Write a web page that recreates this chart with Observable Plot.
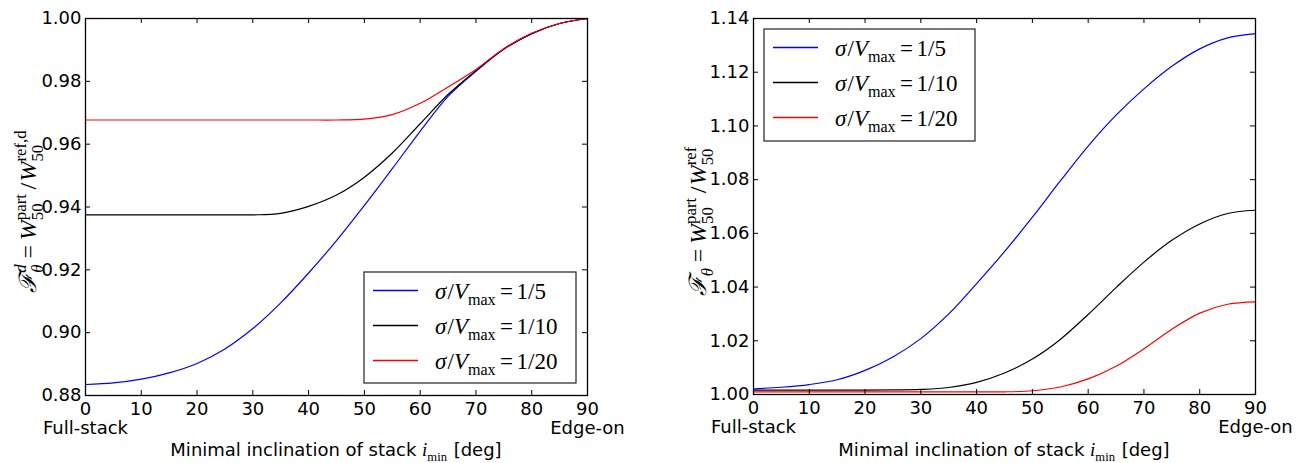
<!DOCTYPE html>
<html><head><meta charset="utf-8">
<script src="https://cdn.jsdelivr.net/npm/d3@7"></script>
<script src="https://cdn.jsdelivr.net/npm/@observablehq/plot@0.6"></script>
<style>
body{margin:0;background:#fff;}
#wrap{display:flex;width:1304px;height:463px;overflow:hidden;}
#wrap svg{display:block;}
</style></head><body><div id="wrap"></div>
<script>
// ---- data ----
const inclination = [0,5,10,15,20,25,30,35,40,45,50,55,60,65,70,75,80,85,90];
const seriesLabels = ["1/5","1/10","1/20"];
const seriesColors = ["#0000ff","#000000","#ff0000"];
// left panel: F^d_theta
const leftBlue  = [0.8835,0.8840,0.8852,0.8872,0.8902,0.8948,0.9013,0.9095,0.9190,0.9293,0.9405,0.9522,0.9641,0.9752,0.9832,0.9902,0.9952,0.9984,1.0000];
const leftBlack = [0.9375,0.9375,0.9375,0.9375,0.9375,0.9375,0.9375,0.9380,0.9402,0.9438,0.9495,0.9572,0.9665,0.9758,0.9834,0.9903,0.9952,0.9984,1.0000];
const leftRed   = [0.9677,0.9677,0.9677,0.9677,0.9677,0.9677,0.9677,0.9677,0.9677,0.9677,0.9680,0.9694,0.9730,0.9782,0.9838,0.9904,0.9953,0.9984,1.0000];
// right panel: F_theta
const rightBlue  = [1.0021,1.0027,1.0037,1.0055,1.0090,1.0140,1.0208,1.0300,1.0413,1.0532,1.0660,1.0795,1.0925,1.1040,1.1138,1.1222,1.1287,1.1328,1.1344];
const rightBlack = [1.0016,1.0016,1.0016,1.0016,1.0016,1.0017,1.0019,1.0026,1.0045,1.0080,1.0132,1.0205,1.0298,1.0398,1.0493,1.0574,1.0635,1.0674,1.0686];
const rightRed   = [1.0010,1.0010,1.0010,1.0010,1.0010,1.0010,1.0010,1.0010,1.0010,1.0010,1.0014,1.0028,1.0058,1.0105,1.0170,1.0243,1.0303,1.0336,1.0345];
const xTicks = [0,10,20,30,40,50,60,70,80,90];
const yTicksLeft = [0.88,0.90,0.92,0.94,0.96,0.98,1.00];
const yTicksRight = [1.00,1.02,1.04,1.06,1.08,1.10,1.12,1.14];
const xEndLabels = ["Full-stack","Edge-on"];
const xEndPos = [0,90];

const SERIF = "'Liberation Serif','Times New Roman',serif";
const SANS = "'DejaVu Sans',sans-serif";

// sequential math-like text layout
function addText(g, x, y, txt, fs, family, italic) {
  const el = g.append("text").attr("x", x).attr("y", y)
    .attr("text-anchor", "start")
    .attr("font-family", family).attr("font-size", fs)
    .attr("font-style", italic ? "italic" : "normal")
    .attr("fill", "#000").text(txt);
  return el.node().getComputedTextLength();
}
function mathRow(g, parts, size) {
  let x = 0;
  for (const p of parts) {
    if (p.gap !== undefined) { x += p.gap * size; continue; }
    if (p.t !== undefined) {
      x += addText(g, x, 0, p.t, (p.scale || 1) * size, p.sans ? SANS : SERIF, p.it);
    } else {
      let w = 0;
      const fs = size * 0.7;
      if (p.sub !== undefined) w = Math.max(w, addText(g, x, size * 0.28, p.sub, fs, SERIF, p.subIt));
      if (p.sup !== undefined) w = Math.max(w, addText(g, x, -size * 0.42, p.sup, fs, SERIF, p.supIt));
      x += w + 1;
    }
  }
  return x;
}

function makePanel(cfg) {
  const W = 652, H = 463;
  const {ml, mr, mt, mb} = cfg;
  const pw = W - ml - mr, ph = H - mt - mb;
  const lineMarks = cfg.series.map((vals, i) =>
    Plot.line(inclination.map((x, j) => ({x, y: vals[j]})),
      {x: "x", y: "y", stroke: seriesColors[i], strokeWidth: 1.2, curve: "catmull-rom"}));
  const plot = Plot.plot({
    width: W, height: H,
    marginLeft: ml, marginRight: mr, marginTop: mt, marginBottom: mb,
    style: {fontFamily: SANS, fontSize: "18px", color: "#000", background: "#fff", overflow: "visible"},
    x: {domain: [0, 90]},
    y: {domain: cfg.ydomain},
    marks: [
      ...lineMarks,
      Plot.tickX(xTicks, {x: d => d, insetTop: ph - 5, stroke: "#000"}),
      Plot.tickX(xTicks, {x: d => d, insetBottom: ph - 5, stroke: "#000"}),
      Plot.tickY(cfg.yticks, {y: d => d, insetRight: pw - 5, stroke: "#000"}),
      Plot.tickY(cfg.yticks, {y: d => d, insetLeft: pw - 5, stroke: "#000"}),
      Plot.frame({stroke: "#000", strokeWidth: 1.3}),
      Plot.axisX({ticks: xTicks, tickSize: 0, tickPadding: 7, label: null, fill: "#000"}),
      Plot.axisY({ticks: cfg.yticks, tickSize: 0, tickPadding: 4, label: null, fill: "#000", tickFormat: d => d.toFixed(2)}),
      Plot.text(xEndLabels, {x: (d, i) => xEndPos[i], text: d => d, frameAnchor: "bottom", dy: 26, lineAnchor: "top", fill: "#000"})
    ]
  });
  document.getElementById("wrap").appendChild(plot);
  const svg = d3.select(plot);

  // x-axis label
  const gx = svg.append("g");
  const inner = gx.append("g");
  const wx = mathRow(inner, [
    {t: "Minimal inclination of stack ", sans: true},
    {t: "i", it: true, scale: 1.05},
    {sub: "min"},
    {t: " [deg]", sans: true}
  ], 18);
  inner.attr("transform", `translate(${-wx / 2},0)`);
  gx.attr("transform", `translate(${ml + pw / 2},${H - 7})`);

  // y-axis label (rotated)
  const gy = svg.append("g");
  const iy = gy.append("g");
  const wy = mathRow(iy, cfg.ylabel, 24);
  iy.attr("transform", `translate(${-wy / 2},0)`);
  gy.attr("transform", `translate(${cfg.ylabX},${cfg.ylabY}) rotate(-90)`);

  // legend
  const L = cfg.legend;
  const lg = svg.append("g");
  lg.append("rect").attr("x", L.x).attr("y", L.y).attr("width", L.w).attr("height", L.h)
    .attr("fill", "#fff").attr("stroke", "#333").attr("stroke-width", 1.3);
  seriesLabels.forEach((lab, i) => {
    const ry = L.y + 18.5 + i * 35;
    lg.append("line").attr("x1", L.x + 9).attr("x2", L.x + 54).attr("y1", ry).attr("y2", ry)
      .attr("stroke", seriesColors[i]).attr("stroke-width", 1.3);
    const tg = lg.append("g").attr("transform", `translate(${L.x + 71},${ry + 8})`);
    mathRow(tg, [
      {t: "σ", it: true}, {gap: 0.05}, {t: "/"}, {t: "V", it: true}, {sub: "max"},
      {gap: 0.15}, {t: "="}, {gap: 0.15}, {t: lab}
    ], 23);
  });
}

makePanel({
  ml: 85, mr: 65, mt: 18, mb: 68,
  ydomain: [0.88, 1.00], yticks: yTicksLeft,
  series: [leftBlue, leftBlack, leftRed],
  ylabel: [
    {t: "ℱ", it: true}, {sub: "θ", sup: "d", subIt: true, supIt: true},
    {gap: 0.2}, {t: "="}, {gap: 0.2},
    {t: "W", it: true}, {sub: "50", sup: "part"},
    {gap: 0.15}, {t: "/"}, {gap: 0.05},
    {t: "W", it: true}, {sub: "50", sup: "ref,d"}
  ],
  ylabX: 36, ylabY: 211,
  legend: {x: 364, y: 272, w: 212, h: 111}
});
makePanel({
  ml: 101, mr: 49, mt: 18, mb: 69,
  ydomain: [1.00, 1.14], yticks: yTicksRight,
  series: [rightBlue, rightBlack, rightRed],
  ylabel: [
    {t: "ℱ", it: true}, {sub: "θ", subIt: true},
    {gap: 0.2}, {t: "="}, {gap: 0.2},
    {t: "W", it: true}, {sub: "50", sup: "part"},
    {gap: 0.15}, {t: "/"}, {gap: 0.05},
    {t: "W", it: true}, {sub: "50", sup: "ref"}
  ],
  ylabX: 54, ylabY: 221,
  legend: {x: 112, y: 29, w: 211, h: 112}
});
</script>
</body></html>
